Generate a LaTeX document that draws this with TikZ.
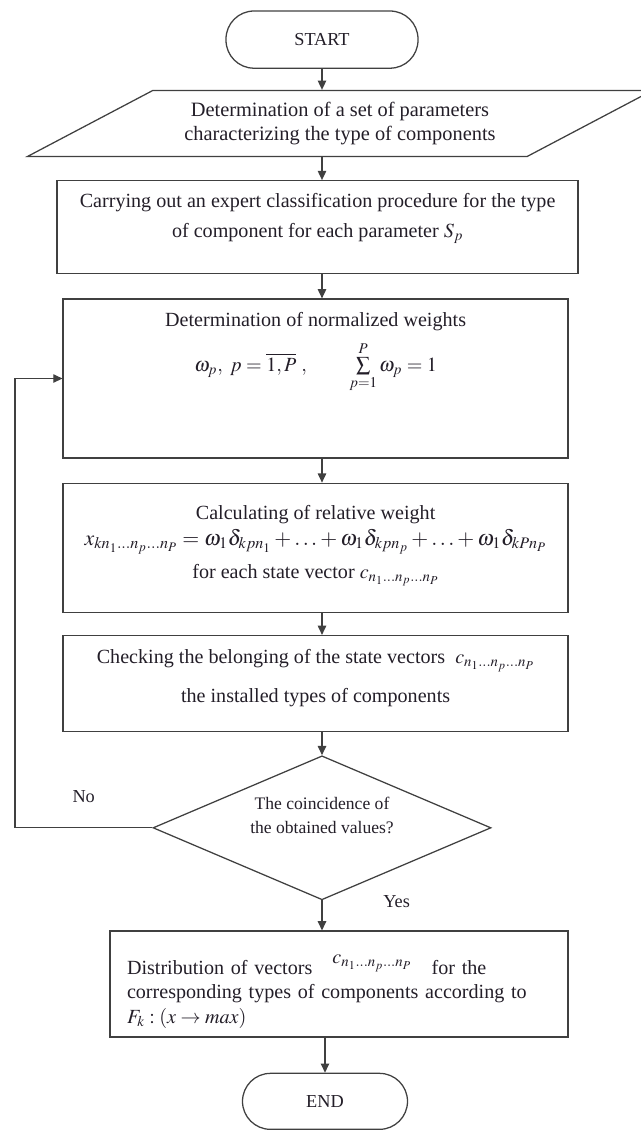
\documentclass[tikz,border=0pt]{standalone}
\usepackage{mathptmx}
\usepackage{fontspec}
\setmainfont{Liberation Serif}
\usepackage{tikz}
\usetikzlibrary{positioning, arrows.meta, shapes.geometric}
\definecolor{flowline}{RGB}{64,64,64}
\definecolor{flowtext}{RGB}{35,30,40}

\begin{document}
\begin{tikzpicture}[
  terminal/.style={rectangle, draw=flowline, line width=0.9pt, rounded corners=0.7cm, minimum width=4.8cm, minimum height=1.43cm, text=flowtext, font=\fontsize{13}{15}\selectfont},
  inout/.style={trapezium, trapezium left angle=22.6, trapezium right angle=157.4, trapezium stretches=true, draw=flowline, line width=0.9pt, minimum width=15.65cm, minimum height=1.65cm, inner sep=0pt, align=center, text=flowtext, font=\fontsize{14.5}{17.5}\selectfont},
  process/.style={rectangle, draw=flowline, line width=0.9pt, minimum width=12.625cm, align=center, text=flowtext, font=\fontsize{14.3}{17.5}\selectfont},
  decision/.style={diamond, draw=flowline, line width=0.9pt, minimum width=8.45cm, minimum height=3.6cm, shape aspect=2.35, inner sep=0pt, align=center, text=flowtext, font=\fontsize{12.5}{17.5}\selectfont},
  arr/.style={-{Triangle[length=2.3mm, width=2.1mm]}, draw=flowline, line width=0.9pt},
  node distance=0.6cm
]
\useasboundingbox (0,0) rectangle (16.025,-28.25);
\clip (0,0) rectangle (16.025,-28.25);

\node[terminal] (start) at (8.05,-0.99) {START};
\node[inout, below=0.525cm of start, xshift=0.45cm] (params) {Determination of a set of parameters\\characterizing the type of components};
\node[process, below=0.575cm of params, xshift=-0.56cm, minimum width=13.025cm, minimum height=2.325cm, text height=0.875cm, text depth=0.35cm] (expert) {Carrying out an expert classification procedure for the type\\[4pt]of component for each parameter $S_p$};
\node[process, below=0.6cm of expert, xshift=-0.05cm, minimum height=3.975cm, text height=0.35cm, text depth=0.725cm] (weights) {Determination of normalized weights\\[7pt]$\omega_p,\ p=\overline{1,P}\ ,\qquad \sum\limits_{p=1}^{P}\omega_p=1$};
\node[process, below=0.6cm of weights, minimum height=3.225cm, text height=1.875cm, text depth=0.35cm] (relweight) {Calculating of relative weight\\[1pt]{\fontsize{15.5}{17.5}\selectfont$x_{kn_1\ldots n_p\ldots n_P}=\omega_1\delta_{kpn_1}+\ldots+\omega_1\delta_{kpn_p}+\ldots+\omega_1\delta_{kPn_P}$}\\[6pt]for each state vector $c_{n_1\ldots n_p\ldots n_P}$};
\node[process, below=0.55cm of relweight, minimum height=2.4cm, text height=1.3cm, text depth=0.35cm] (checking) {Checking the belonging of the state vectors ~$c_{n_1\ldots n_p\ldots n_P}$\\[10pt]the installed types of components};
\node[decision, below=0.575cm of checking, xshift=0.16cm, text height=0.65cm, text depth=0.35cm] (coincide) {The coincidence of\\the obtained values?};
\node[process, below=0.75cm of coincide, xshift=0.425cm, minimum width=11.45cm, minimum height=2.65cm, text width=10.6cm, align=left, text height=0.6cm, text depth=1.1cm] (distrib) {Distribution of vectors ~~\raisebox{1.1ex}{$c_{n_1\ldots n_p\ldots n_P}$}~~~for the\\corresponding types of components according to\\$F_k : (x\rightarrow max)$};
\node[terminal, below=0.875cm of distrib, xshift=-0.35cm, minimum width=4.125cm, minimum height=1.4cm] (stop) {END};

\draw[arr] (start) -- (start |- params.north);
\draw[arr] (params.south -| start) -- (expert.north -| start);
\draw[arr] (expert.south -| start) -- (weights.north -| start);
\draw[arr] (weights.south -| start) -- (relweight.north -| start);
\draw[arr] (relweight.south -| start) -- (checking.north -| start);
\draw[arr] (checking.south -| coincide) -- (coincide);
\draw[arr] (coincide) -- (distrib.north -| coincide) node[pos=0.05, right=1.4cm, text=flowtext, font=\fontsize{13}{15}\selectfont] {Yes};
\draw[arr] (distrib.south -| stop) -- (stop);
\coordinate (loopx) at (0.375,0);
\draw[arr] (coincide.west) -- (coincide.west -| loopx) node[midway, above=0.5cm, text=flowtext, font=\fontsize{13}{15}\selectfont] {No} |- (weights.west);
\end{tikzpicture}
\end{document}
